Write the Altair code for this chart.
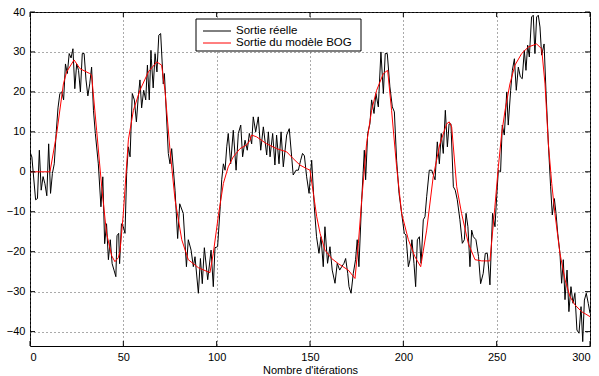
import altair as alt
import pandas as pd

# Sortie réelle (black) : iteration, value
real_x = [0, 1, 3, 4, 5, 6, 7, 8, 9, 10, 11, 12, 13, 14, 15, 16, 17, 18, 19, 20,
          21, 22, 23, 24, 25, 26, 27, 28, 29, 30, 31, 32, 33, 34, 35, 36.6, 38, 39, 40, 41,
          42, 43, 44, 45, 46, 46.6, 47.5, 48, 49, 50, 50.9, 51.8, 52.7, 53.6, 54.8, 55.9, 57, 58, 58.9, 59.8,
          60.9, 62, 62.9, 63.9, 64.8, 65, 66, 67, 68, 69, 70, 71.4, 72, 74.1, 75, 75.9, 77.7, 79.1, 80.2, 82.1,
          83.8, 84.8, 86.3, 87.5, 88.4, 90.2, 91.3, 92.3, 93.4, 95.2, 97, 98.2, 99.1, 100.5, 101.9, 102.7, 103.6, 104.5, 105.4, 106.2,
          107.5, 108.9, 110.4, 111.6, 112.9, 113.9, 115.2, 116.4, 117.5, 118.75, 119.6, 120.9, 122.3, 123.6, 125, 126.8, 127.7, 128.6, 130, 131.2,
          132.1, 133.4, 134.5, 135.7, 137.5, 138.9, 141, 142.5, 143.75, 145, 146, 147, 148.2, 149.5, 150.9, 152.3, 153.5, 154.8, 155.9, 157.1,
          158, 159.4, 160.7, 161.9, 163.4, 164.6, 165.9, 167, 168.2, 169.1, 170.2, 170.9, 172, 173.2, 174.4, 175.3, 176.2, 177.7, 179.1, 179.8,
          180.9, 182.1, 183, 184.3, 185.3, 186.6, 188, 189.3, 190.3, 191.4, 192.8, 194.1, 195.2, 196.4, 197.7, 199.1, 200.5, 201.4, 202.7, 203.6,
          204.6, 205.7, 206.6, 207.5, 208.6, 209.5, 210.7, 211.6, 212.5, 213.9, 215.2, 217, 218.2, 219.3, 220.3, 221.4, 222.5, 223.6, 224.5, 225.5,
          226.8, 227.8, 228.9, 230.3, 231.6, 232.7, 233.6, 234.6, 235.7, 236.6, 237.5, 238.9, 240.3, 241.4, 242.8, 243.9, 245, 246.4, 247.8, 249.1,
          250, 250.9, 252.1, 253, 254.1, 255.4, 256.2, 257.5, 258.4, 259.5, 260.5, 261.6, 262.7, 263.7, 264.8, 265.7, 266.6, 267.5, 268.7, 269.6,
          270.5, 271.4, 272.3, 273.2, 274.1, 275.4, 276.4, 277.7, 278.9, 279.8, 280.9, 281.8, 282.7, 283.9, 284.8, 285.7, 286.6, 287.7, 288.7, 289.8,
          290.9, 291.9, 293, 294.1, 295.2, 296.1, 297, 298, 299.1, 300]
real_y = [5, 3.7, -7, -6.7, 5.4, -4.6, -1.2, -3, -6, 7, -5.4, -0.4, 2, 9.6, 16, 19.6, 20, 18, 27, 24.6,
          29.6, 28.5, 30.8, 20.8, 27, 25.4, 20, 29.6, 29.6, 23, 19, 22, 26.2, 15.4, 9.6, 2, -8.75, -1.25, -18, -13,
          -22, -17, -23, -24.6, -26.25, -16, -15.4, -23, -13, -13.75, -15.4, 0, 6.25, 3.75, 19.6, 18, 12.5, 18.75, 23, 16,
          20.4, 18, 26.7, 18, 30.4, 28.3, 21, 29.6, 25, 34.2, 34.6, 22, 24.6, 4.6, 2, 5.8, -4.6, -16.7, -8, -10.4,
          -23.75, -17, -19.6, -23.75, -21.25, -30.4, -21.7, -28, -19, -27, -19.6, -28.75, -19, -18.75, -8.75, -2, 2, 0.4, 6.25, 9.6,
          2, 10.4, 0.4, 9.6, 11.7, 3.75, 7.9, 5.4, 9.6, 7, 13.75, 10, 13.75, 5.4, 11.25, 4.2, 10, 3.75, 9.6, 1.7,
          9.2, 2, 10, 1.25, 9.2, 10.8, -0.8, 0.4, 0.4, 2.9, 4.6, 4, -1.25, -5.4, 2.9, -8.75, -16.25, -20.4, -16.25, -23.75,
          -13.75, -22.9, -18.75, -24.6, -27.9, -22.9, -24.6, -23.75, -22.9, -21.7, -25.4, -28.75, -30.4, -25.4, -22, -17, -23.75, -7, 5.4, -2,
          9.6, 12, 18, 14.6, 19.6, 16.25, 30, 19.6, 29.6, 29.6, 21.25, 16.25, 15, 2.9, -5.4, -10.4, -15.4, -15.8, -23.75, -22,
          -17, -22.9, -28.75, -17, -16.25, -22.9, -12, -11.25, -6.25, 0.4, 0.4, -2, 7.5, 2, 9.6, 4.6, 15.4, 6.25, 12, 12,
          -3.75, -4.6, -7, -12, -17.9, -17, -10.4, -13.75, -23.75, -14.6, -16.25, -17, -21.25, -28, -25.4, -20.4, -20.4, -28.3, -10.4, -13.75,
          -6.25, 0.4, 0, 11.7, 9.2, 20, 11.7, 20.4, 25.4, 28.3, 20.4, 26.2, 23.75, 23.3, 30.4, 25.4, 31.7, 28.75, 38.75, 39.2,
          29.6, 38.75, 39.2, 36.25, 29.2, 32, 20.4, 7, -3.75, -10.8, -6.7, -10.4, -15.4, -20.4, -27.9, -22, -32, -24.6, -35, -28.75,
          -32.9, -30.4, -39.6, -40.4, -33.75, -42.5, -32.1, -30.4, -33, -35.4]

# Sortie du modèle BOG (red)
model_x = [0, 10.7, 14.3, 17.9, 19.6, 23.6, 26.8, 32, 33, 35.7, 38.4, 41, 43.75, 45.5, 47.3, 48.2, 50, 52.7, 55.4, 58.9,
           63.4, 67.9, 70.5, 72.3, 75, 77.7, 81.3, 84.8, 90.2, 96.4, 98.2, 100.9, 103.6, 106.2, 108.9, 112.5, 116, 117.9, 118.75, 121.4,
           126.8, 132.1, 137.5, 141, 144.6, 148.2, 150, 151.8, 153.6, 155.4, 158, 161.6, 165.2, 170.5, 174.1, 175.9, 177.7, 180.3, 183, 185.7,
           189.3, 191.6, 193.7, 196.4, 199.1, 202.7, 206.2, 209.3, 212.5, 216, 219.6, 223.2, 224.6, 225.9, 228.6, 231.2, 234.8, 238.4, 242, 246.4,
           249, 250.9, 252.7, 254.5, 257.1, 259.8, 263.4, 267, 271.4, 274.1, 275.9, 277.7, 279.5, 281.2, 283.9, 286.6, 289.3, 291.9, 295.5, 300]
model_y = [0, 0, 9.6, 22, 25, 28, 25.8, 24.6, 24.2, 10.4, -3.75, -15.4, -21, -22.5, -21.5, -20, -10.4, 8, 15.4, 20.4,
           25, 27.5, 26.7, 20.4, 5.4, -7, -17, -22, -24, -25.25, -20.4, -11, -2.9, 1.25, 3.75, 5.8, 6.7, 7.9, 9.2, 8.75,
           7, 5.8, 5, 3.3, 1.7, 0.8, 0.4, -5.4, -11.25, -15.4, -19.6, -21.7, -23, -24.6, -26.7, -18, -7, 7, 15.4, 20.4,
           24.6, 25.4, 15.4, 1.25, -10.4, -17, -21.25, -23.75, -14.6, -1.25, 7, 12, 12.5, 11.25, -3.75, -10.4, -17.9, -22, -22.3, -22.3,
           -9, 1.25, 9.6, 15.4, 22, 26.7, 29.6, 31.25, 32, 30.8, 22, 7, -2.9, -10.4, -20.4, -27, -31.25, -33.3, -35, -36.25]

series_names = ["Sortie réelle", "Sortie du modèle BOG"]
series_colors = ["#000000", "#ff0000"]
x_ticks = [0, 50, 100, 150, 200, 250, 300]
y_ticks = [-40, -30, -20, -10, 0, 10, 20, 30, 40]

W, H = 560, 334
FONT = "Liberation Sans"

df_real = pd.DataFrame({"it": real_x, "val": real_y})
df_model = pd.DataFrame({"it": model_x, "val": model_y})

xscale = alt.Scale(domain=[0, 300], nice=False, zero=False)
yscale = alt.Scale(domain=[-43.6, 40], nice=False, zero=False)

xaxis = alt.Axis(values=x_ticks, title="Nombre d'itérations", ticks=False, domain=False,
                 grid=True, gridColor="#555", gridDash=[1, 3], gridWidth=1,
                 labelFont=FONT, labelFontSize=11, labelColor="#000", labelPadding=5,
                 titleFont=FONT, titleFontSize=11, titleFontWeight="normal", titleColor="#000",
                 titlePadding=2, format="d")
yaxis = alt.Axis(values=y_ticks, title=None, ticks=False, domain=False,
                 grid=True, gridColor="#555", gridDash=[1, 3], gridWidth=1,
                 labelFont=FONT, labelFontSize=11, labelColor="#000", labelPadding=5, format="d")

line_real = alt.Chart(df_real).mark_line(strokeWidth=1, clip=True, color=series_colors[0]).encode(
    x=alt.X("it:Q", scale=xscale, axis=xaxis),
    y=alt.Y("val:Q", scale=yscale, axis=yaxis))
line_model = alt.Chart(df_model).mark_line(strokeWidth=1, clip=True, color=series_colors[1]).encode(
    x=alt.X("it:Q", scale=xscale),
    y=alt.Y("val:Q", scale=yscale))

dfx = pd.DataFrame({"t": x_ticks})
dfy = pd.DataFrame({"t": y_ticks})
tick_xb = alt.Chart(dfx).mark_rule(color="#000", strokeWidth=1).encode(
    x=alt.X("t:Q", scale=xscale), y=alt.value(H), y2=alt.value(H - 5))
tick_xt = alt.Chart(dfx).mark_rule(color="#000", strokeWidth=1).encode(
    x=alt.X("t:Q", scale=xscale), y=alt.value(0), y2=alt.value(5))
tick_yl = alt.Chart(dfy).mark_rule(color="#000", strokeWidth=1).encode(
    y=alt.Y("t:Q", scale=yscale), x=alt.value(0), x2=alt.value(5))
tick_yr = alt.Chart(dfy).mark_rule(color="#000", strokeWidth=1).encode(
    y=alt.Y("t:Q", scale=yscale), x=alt.value(W), x2=alt.value(W - 5))

# manual legend box
LX0, LX1, LY0, LY1 = 166, 331, 7, 39
legend_box = alt.Chart(pd.DataFrame({"k": [0]})).mark_rect(
    fill="#ffffff", stroke="#000", strokeWidth=1).encode(
    x=alt.value(LX0), x2=alt.value(LX1), y=alt.value(LY0), y2=alt.value(LY1))
legend_parts = []
row_y = [19, 31]
for name, col, ry in zip(series_names, series_colors, row_y):
    d = pd.DataFrame({"label": [name]})
    legend_parts.append(alt.Chart(d).mark_rule(color=col, strokeWidth=1).encode(
        x=alt.value(173), x2=alt.value(201), y=alt.value(ry)))
    legend_parts.append(alt.Chart(d).mark_text(
        align="left", baseline="middle", font=FONT, fontSize=11.5, color="#000").encode(
        x=alt.value(206), y=alt.value(ry), text="label:N"))

chart = alt.layer(line_real, line_model, tick_xb, tick_xt, tick_yl, tick_yr,
                  legend_box, *legend_parts).properties(
    width=W, height=H,
    autosize=alt.AutoSizeParams(type="none"),
    padding={"left": 30, "top": 12, "right": 9, "bottom": 30},
    background="#ffffff",
).configure_view(stroke="#000", strokeWidth=1)

chart.save("out.html", embed_options={"renderer": "svg", "actions": False})
